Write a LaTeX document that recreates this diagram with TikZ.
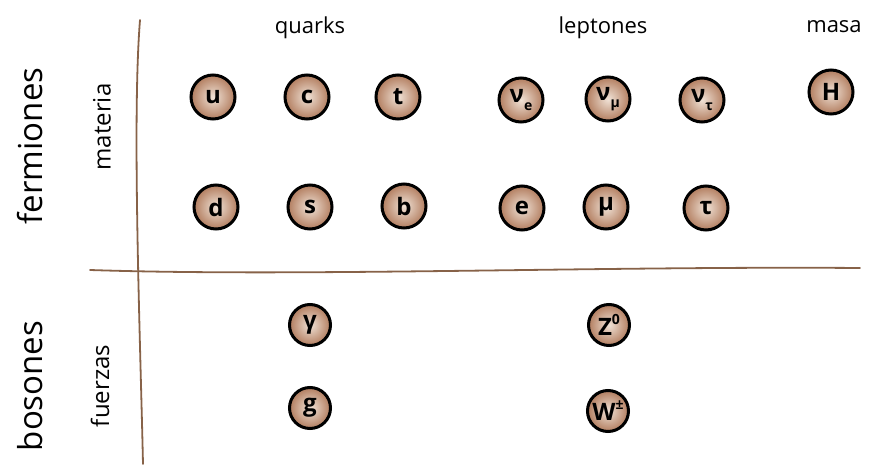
\documentclass[tikz,border=0pt]{standalone}
\usepackage{fontspec}
\setmainfont{Open Sans}
\newfontfamily\hand{Open Sans}
\newcommand{\lo}[1]{\raisebox{-0.3em}{\fontsize{14}{14}\selectfont #1}}
\newcommand{\hi}[1]{\raisebox{0.45em}{\fontsize{14}{14}\selectfont #1}}
\definecolor{linebrown}{RGB}{135,98,72}
\definecolor{ballin}{RGB}{240,226,214}
\definecolor{ballout}{RGB}{178,125,95}
\begin{document}
\begin{tikzpicture}[x=1pt,y=-1pt,
  particle/.style={circle,draw=black,line width=3pt,minimum size=44pt,inner sep=0pt,
    shading=radial,inner color=ballin,outer color=ballout,
    font=\hand\bfseries\fontsize{24}{24}\selectfont},
  boson/.style={particle,minimum size=41pt},
  head/.style={font=\fontsize{22}{22}\selectfont,anchor=base},
  group/.style={font=\fontsize{33}{33}\selectfont,rotate=90},
  sub/.style={font=\fontsize{24}{24}\selectfont,rotate=90},
  axis/.style={draw=linebrown,line width=1.8pt,line cap=round}]
\useasboundingbox (0,0) rectangle (871,466);
% axes
\coordinate (vtop) at (140,20);
\coordinate (vbot) at (143,464);
\coordinate (hl) at (90,270);
\coordinate (hr) at (860,268);
\draw[axis] (vtop) .. controls (132,120) and (140,330) .. (vbot);
\draw[axis] (hl) .. controls (300,277) and (600,266) .. (hr);
% headers
\node[head] (quarks) at (310,33) {quarks};
\node[head] (leptones) at (603,33) {leptones};
\node[head] (masa) at (834,32) {masa};
\node[group] (fermiones) at (30,146) {fermiones};
\node[group] (bosones) at (30,386) {bosones};
\node[sub] (materia) at (102,127) {materia};
\node[sub] (fuerzas) at (100,386) {fuerzas};
% fermions
\node[particle] (u) at (213,97) {u};
\node[particle] (c) at (307,97) {c};
\node[particle] (t) at (398,97) {t};
\node[particle] (ve) at (521,100) {ν\lo{e}};
\node[particle] (vm) at (608,99) {ν\lo{μ}};
\node[particle] (vt) at (702,100) {ν\lo{τ}};
\node[particle] (H) at (831,92) {H};
\node[particle] (d) at (216,207) {d};
\node[particle] (s) at (310,207) {s};
\node[particle] (b) at (404,206) {b};
\node[particle] (e) at (522,208) {e};
\node[particle] (mu) at (606,207) {μ};
\node[particle] (tau) at (706,208) {τ};
% bosons
\node[boson] (gamma) at (310,325) {γ};
\node[boson] (g) at (310,408) {g};
\node[boson] (Z) at (609,325) {Z\hi{0}};
\node[boson] (W) at (608,411) {W\hi{±}};
\end{tikzpicture}
\end{document}
